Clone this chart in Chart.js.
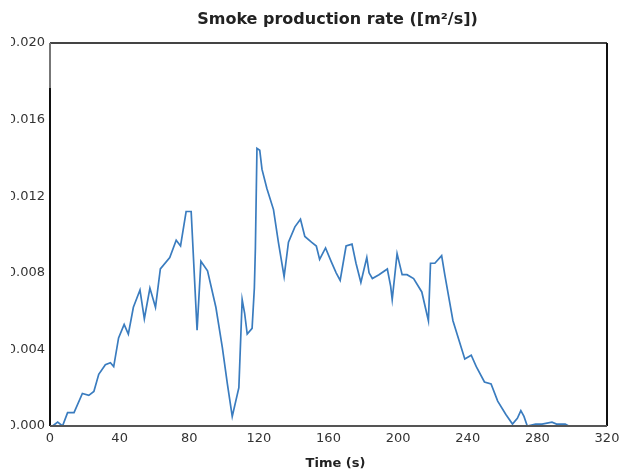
<!DOCTYPE html>
<html>
<head>
<meta charset="utf-8">
<script src="https://cdn.jsdelivr.net/npm/chart.js@4.4.1/dist/chart.umd.min.js"></script>
<style>
  html, body { margin: 0; padding: 0; background: #fff; overflow: hidden; }
  canvas { display: block; }
</style>
</head>
<body>
<canvas id="smoke" width="621" height="475"></canvas>
<script>
// values
const times = [0, 1.5, 4.4, 7.2, 10.1, 13.8, 18.6, 22.3, 25.2, 28.0, 31.8, 34.7, 36.6, 39.4, 42.6, 45.0,
  47.9, 51.7, 54.2, 57.4, 60.6, 63.4, 68.8, 72.5, 75.0, 78.2, 81.1, 84.5, 86.7, 90.5, 95.3, 99.0,
  101.9, 104.7, 108.5, 110.4, 111.8, 113.3, 116.1, 117.4, 118.0, 118.9, 120.5, 121.8, 124.6, 128.4,
  131.2, 134.5, 137.0, 140.7, 143.9, 146.4, 150.2, 153.0, 154.9, 158.3, 161.5, 164.4, 166.7, 170.1,
  173.5, 175.8, 178.6, 182.0, 183.3, 185.2, 189.0, 193.8, 195.7, 196.6, 199.4, 202.3, 205.1, 208.9,
  213.6, 217.4, 218.6, 221.1, 225.0, 226.8, 231.5, 238.3, 242.0, 244.9, 249.6, 253.4, 257.2, 261.9,
  265.7, 268.5, 270.5, 272.3, 274.2, 279.0, 282.7, 288.4, 291.0, 296.0, 298.0, 300.0];
const smokeRate = [0, 0, 0.0002, 0, 0.0007, 0.0007, 0.0017, 0.0016, 0.0018, 0.0027, 0.0032, 0.0033, 0.0031, 0.0046, 0.0053, 0.0048,
  0.0062, 0.0071, 0.0056, 0.0072, 0.0062, 0.0082, 0.0088, 0.0097, 0.0094, 0.0112, 0.0112, 0.0050, 0.0086, 0.0081, 0.0062, 0.0041,
  0.0022, 0.0005, 0.0020, 0.0066, 0.0059, 0.0048, 0.0051, 0.0072, 0.0093, 0.0145, 0.0144, 0.0134, 0.0124, 0.0113,
  0.0096, 0.0078, 0.0096, 0.0104, 0.0108, 0.0099, 0.0096, 0.0094, 0.0087, 0.0093, 0.0086, 0.0080, 0.0076, 0.0094,
  0.0095, 0.0085, 0.0075, 0.0088, 0.0080, 0.0077, 0.0079, 0.0082, 0.0073, 0.0066, 0.0090, 0.0079, 0.0079, 0.0077,
  0.0070, 0.0055, 0.0085, 0.0085, 0.0089, 0.0079, 0.0055, 0.0035, 0.0037, 0.0031, 0.0023, 0.0022, 0.0013, 0.0006,
  0.0001, 0.0004, 0.0008, 0.0005, 0, 0.0001, 0.0001, 0.0002, 0.0001, 0.0001, 0, 0];
const xTicks = [0, 40, 80, 120, 160, 200, 240, 280, 320];
const yTicks = [0, 0.004, 0.008, 0.012, 0.016, 0.020];
const chartTitle = 'Smoke production rate ([m²/s])';
const xTitle = 'Time (s)';

const points = times.map((t, i) => ({ x: t, y: smokeRate[i] }));

// box round the plot area, the two titles (sit a bit right of centre in the original),
// and the cut-off left edge of the y labels
const frame = {
  id: 'frame',
  afterDraw(chart) {
    const { ctx, chartArea: a } = chart;
    ctx.save();
    ctx.lineWidth = 2;
    ctx.strokeStyle = '#444';
    ctx.beginPath(); ctx.moveTo(a.left, a.top); ctx.lineTo(a.right, a.top); ctx.stroke();
    ctx.strokeStyle = '#777';
    ctx.beginPath(); ctx.moveTo(a.left, a.top); ctx.lineTo(a.left, a.top + 45); ctx.stroke();
    ctx.strokeStyle = '#111';
    ctx.beginPath(); ctx.moveTo(a.left, a.top + 45); ctx.lineTo(a.left, a.bottom); ctx.stroke();
    ctx.beginPath(); ctx.moveTo(a.right, a.top); ctx.lineTo(a.right, a.bottom); ctx.stroke();
    ctx.strokeStyle = '#555';
    ctx.beginPath(); ctx.moveTo(a.left, a.bottom); ctx.lineTo(a.right, a.bottom); ctx.stroke();

    const cx = (a.left + a.right) / 2 + 9;
    ctx.fillStyle = '#222';
    ctx.textAlign = 'center';
    ctx.textBaseline = 'middle';
    ctx.font = 'bold 16px "DejaVu Sans"';
    ctx.fillText(chartTitle, cx, 20);
    ctx.font = 'bold 13px "DejaVu Sans"';
    ctx.fillText(xTitle, cx - 2, a.bottom + 38);

    ctx.fillStyle = '#fff';
    ctx.fillRect(0, 0, 11, chart.height);
    ctx.restore();
  }
};

new Chart(document.getElementById('smoke'), {
  type: 'scatter',
  data: {
    datasets: [{
      data: points,
      showLine: true,
      borderColor: '#3a7cbf',
      borderWidth: 1.7,
      pointRadius: 0,
      tension: 0
    }]
  },
  options: {
    responsive: false,
    animation: false,
    layout: { autoPadding: false, padding: { left: 0, right: 14, top: 43, bottom: 0 } },
    plugins: {
      legend: { display: false },
      tooltip: { enabled: false },
      title: { display: false }
    },
    scales: {
      x: {
        type: 'linear',
        min: 0, max: 320,
        afterBuildTicks: s => { s.ticks = xTicks.map(v => ({ value: v })); },
        afterFit: s => { s.height = 49; s.paddingLeft = 0; s.paddingRight = 0; },
        grid: { display: false, drawTicks: false },
        border: { display: false },
        ticks: { color: '#333', padding: 5, font: { family: 'DejaVu Sans', size: 13 } }
      },
      y: {
        min: 0, max: 0.020,
        afterBuildTicks: s => { s.ticks = yTicks.map(v => ({ value: v })); },
        afterFit: s => { s.width = 50; s.paddingTop = 0; s.paddingBottom = 0; },
        grid: { display: false, drawTicks: false },
        border: { display: false },
        ticks: {
          color: '#333',
          padding: 5,
          font: { family: 'DejaVu Sans', size: 13 },
          callback: v => v.toFixed(3)
        }
      }
    }
  },
  plugins: [frame]
});
</script>
</body>
</html>
